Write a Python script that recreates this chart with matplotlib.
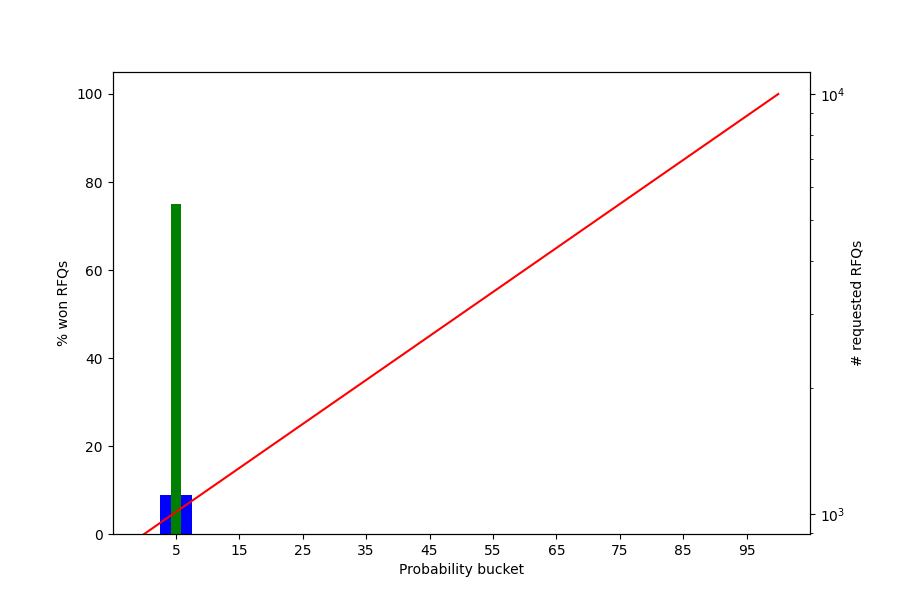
import matplotlib
matplotlib.use('Agg')
import matplotlib.pyplot as plt

# Data
buckets = [5]
pct_requested = [8.9]   # blue bar
pct_won = [75]          # green bar
diag_x = [0, 100]
diag_y = [0, 100]
xtick_vals = [5, 15, 25, 35, 45, 55, 65, 75, 85, 95]

fig, ax1 = plt.subplots(figsize=(9, 6), dpi=100)

ax1.bar(buckets, pct_requested, width=5, color='blue')
ax1.plot(diag_x, diag_y, color='red')
ax1.bar(buckets, pct_won, width=1.6, color='green')

ax1.set_xticks(xtick_vals)
ax1.set_xlabel('Probability bucket')
ax1.set_ylabel('% won RFQs')

ax2 = ax1.twinx()
ax2.set_yscale('log')
ax2.set_ylim(896, 11280)
ax2.set_ylabel('# requested RFQs')

plt.savefig('out.png')
